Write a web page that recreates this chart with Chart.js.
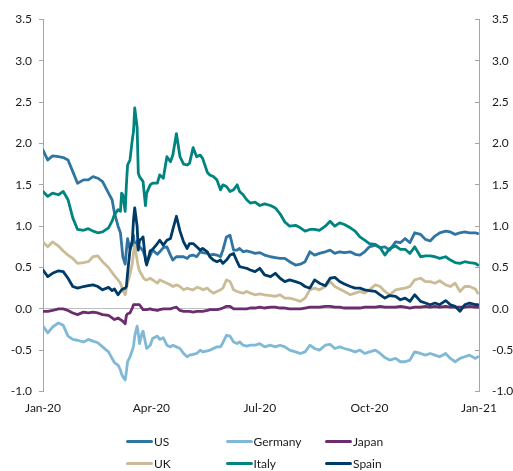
<!DOCTYPE html>
<html><head><meta charset="utf-8">
<script src="https://cdn.jsdelivr.net/npm/chart.js@4"></script>
<style>
html,body{margin:0;padding:0;background:#fff;}
#wrap{position:relative;width:513px;height:471px;}
#legend{position:absolute;left:0;top:0;width:513px;height:471px;pointer-events:none;font:12px Lato, sans-serif;color:#1a1a1a;}
.item{position:absolute;display:flex;align-items:center;height:16px;white-space:nowrap;}
.item i{display:inline-block;width:27px;height:3px;border-radius:1.5px;margin-right:1px;}
</style></head><body>
<div id="wrap"><canvas id="c" width="513" height="471"></canvas><div id="legend"></div></div>
<script>
// days since 2020-01-01
const days = [0,4,8,13,17,21,25,29,34,38,42,46,50,55,
58,60,63,65,66,67,69,70,71,73,75,76,77,79,80,81,83,84,86,87,
90,92,96,98,101,104,107,109,112,115,118,121,123,126,129,132,134,138,140,143,146,149,151,154,157,160,163,165,168,171,174,
178,182,186,191,195,199,203,207,212,216,220,224,228,232,237,241,245,249,253,258,262,266,270,274,279,283,287,291,296,300,304,308,312,317,321,325,329,333,338,342,346,350,354,358,363,365];

const us = [1.92,1.80,1.85,1.84,1.83,1.80,1.66,1.52,1.56,1.56,1.60,1.58,1.54,1.40,
1.32,1.16,1.00,0.92,0.78,0.63,0.54,0.71,0.85,0.72,0.79,0.89,0.70,0.82,0.76,0.75,0.72,0.70,0.62,0.55,
0.65,0.71,0.66,0.69,0.74,0.75,0.65,0.59,0.63,0.63,0.63,0.61,0.64,0.65,0.63,0.69,0.68,0.67,0.65,0.66,0.65,0.63,0.71,0.87,0.89,0.71,0.71,0.73,0.69,0.70,0.69,
0.67,0.68,0.65,0.63,0.62,0.61,0.61,0.57,0.53,0.54,0.57,0.69,0.65,0.67,0.69,0.71,0.67,0.69,0.68,0.69,0.66,0.65,0.69,0.75,0.77,0.74,0.75,0.71,0.81,0.80,0.85,0.80,0.92,0.90,0.84,0.82,0.88,0.92,0.94,0.93,0.90,0.92,0.93,0.92,0.92,0.91];

const germany = [-0.21,-0.29,-0.22,-0.17,-0.20,-0.33,-0.37,-0.38,-0.40,-0.37,-0.39,-0.41,-0.46,-0.52,
-0.60,-0.65,-0.68,-0.74,-0.79,-0.82,-0.86,-0.76,-0.64,-0.58,-0.50,-0.45,-0.33,-0.21,-0.30,-0.42,-0.30,-0.27,-0.41,-0.48,
-0.44,-0.36,-0.33,-0.37,-0.35,-0.44,-0.46,-0.44,-0.46,-0.48,-0.54,-0.58,-0.56,-0.55,-0.54,-0.50,-0.52,-0.51,-0.50,-0.48,-0.46,-0.46,-0.41,-0.32,-0.33,-0.40,-0.42,-0.40,-0.44,-0.45,-0.44,
-0.44,-0.42,-0.46,-0.44,-0.46,-0.44,-0.46,-0.50,-0.52,-0.54,-0.52,-0.44,-0.48,-0.50,-0.44,-0.43,-0.48,-0.46,-0.48,-0.50,-0.52,-0.50,-0.54,-0.52,-0.50,-0.54,-0.59,-0.62,-0.60,-0.64,-0.64,-0.62,-0.52,-0.54,-0.56,-0.54,-0.56,-0.58,-0.54,-0.60,-0.64,-0.60,-0.58,-0.56,-0.60,-0.58];

const japan = [-0.03,-0.03,-0.02,0.00,0.00,-0.02,-0.05,-0.07,-0.04,-0.05,-0.04,-0.05,-0.07,-0.08,
-0.11,-0.13,-0.11,-0.13,-0.14,-0.15,-0.18,-0.08,-0.06,-0.05,0.01,0.05,0.05,0.05,0.05,0.05,0.01,-0.01,-0.01,-0.01,
0.00,-0.01,-0.02,-0.01,0.00,0.00,0.00,0.01,0.02,-0.02,-0.03,-0.03,-0.03,-0.04,-0.03,-0.03,-0.03,-0.02,-0.01,-0.01,-0.01,0.00,0.01,0.03,0.03,0.00,0.00,0.00,0.00,0.00,0.01,
0.01,0.02,0.01,0.02,0.02,0.01,0.01,0.00,0.00,0.00,0.01,0.02,0.02,0.02,0.03,0.03,0.02,0.02,0.01,0.01,0.01,0.01,0.02,0.02,0.02,0.03,0.02,0.02,0.02,0.03,0.02,0.01,0.02,0.02,0.03,0.02,0.03,0.02,0.03,0.02,0.02,0.02,0.02,0.03,0.02,0.02];

const uk = [0.81,0.75,0.81,0.76,0.70,0.65,0.61,0.55,0.56,0.57,0.63,0.64,0.57,0.50,
0.44,0.40,0.35,0.31,0.27,0.22,0.17,0.25,0.31,0.42,0.55,0.69,0.77,0.59,0.51,0.46,0.41,0.38,0.35,0.35,
0.37,0.35,0.31,0.35,0.33,0.31,0.29,0.27,0.29,0.27,0.23,0.25,0.24,0.23,0.26,0.25,0.23,0.25,0.22,0.19,0.21,0.23,0.25,0.35,0.33,0.23,0.21,0.20,0.19,0.21,0.19,
0.17,0.18,0.17,0.16,0.15,0.17,0.13,0.13,0.11,0.09,0.13,0.23,0.25,0.23,0.27,0.33,0.27,0.24,0.21,0.17,0.19,0.21,0.19,0.23,0.29,0.27,0.21,0.17,0.23,0.24,0.25,0.27,0.35,0.37,0.33,0.33,0.31,0.34,0.29,0.27,0.31,0.21,0.27,0.27,0.24,0.19];

const italy = [1.42,1.36,1.40,1.38,1.42,1.32,1.10,0.96,0.95,0.97,0.94,0.92,0.93,0.98,
1.06,1.14,1.20,1.18,1.40,1.38,1.18,1.50,1.74,1.80,2.05,2.15,2.43,2.20,1.64,1.60,1.56,1.54,1.25,1.40,
1.50,1.52,1.52,1.62,1.58,1.84,1.78,1.86,2.12,1.84,1.75,1.74,1.76,1.95,1.84,1.86,1.82,1.65,1.62,1.60,1.56,1.44,1.50,1.48,1.42,1.44,1.50,1.42,1.38,1.32,1.28,
1.29,1.25,1.27,1.25,1.22,1.15,1.05,1.00,1.01,0.98,0.94,0.96,0.96,0.95,1.00,1.06,1.00,1.04,1.02,0.98,0.94,0.87,0.83,0.79,0.78,0.74,0.65,0.73,0.76,0.72,0.72,0.67,0.75,0.63,0.64,0.64,0.63,0.61,0.63,0.59,0.56,0.55,0.57,0.56,0.55,0.53];

const spain = [0.47,0.39,0.43,0.46,0.45,0.37,0.27,0.25,0.27,0.28,0.29,0.27,0.23,0.26,
0.22,0.24,0.17,0.21,0.23,0.24,0.25,0.27,0.43,0.71,0.83,1.08,1.22,1.00,0.71,0.83,0.85,0.87,0.59,0.53,
0.70,0.72,0.79,0.83,0.77,0.83,0.85,0.96,1.12,0.94,0.81,0.73,0.79,0.79,0.75,0.71,0.73,0.69,0.63,0.59,0.57,0.59,0.55,0.59,0.65,0.67,0.57,0.51,0.50,0.49,0.47,
0.45,0.49,0.41,0.39,0.43,0.37,0.33,0.35,0.33,0.31,0.27,0.25,0.35,0.31,0.28,0.37,0.38,0.33,0.30,0.27,0.25,0.25,0.23,0.22,0.21,0.17,0.13,0.16,0.15,0.11,0.13,0.09,0.17,0.09,0.07,0.05,0.07,0.05,0.10,0.05,0.03,-0.03,0.05,0.07,0.05,0.05];

const seriesNames = ['US','Germany','Japan','UK','Italy','Spain'];
const seriesColors = ['#2e75a3','#7fb9d6','#6b2d6f','#c9bc96','#00847f','#003a66'];
const tickDays = [0,91,182,274,366];
const tickLabels = ['Jan-20','Apr-20','Jul-20','Oct-20','Jan-21'];

const seriesValues = [us, germany, japan, uk, italy, spain];
const font = {family:'Lato, sans-serif', size:12};
const txt = '#1a1a1a';
const axisGrey = '#a6a6a6';

new Chart(document.getElementById('c'), {
  type:'line',
  data:{datasets: seriesValues.map((v,i)=>({
    label: seriesNames[i],
    data: days.map((d,j)=>({x:d, y:v[j]})),
    borderColor: seriesColors[i], backgroundColor: seriesColors[i],
    borderWidth: 2.8, pointRadius: 0, tension: 0, fill:false,
    borderJoinStyle:'round', borderCapStyle:'round',
    order: seriesValues.length - i, yAxisID:'y'
  }))},
  options:{
    responsive:false, animation:false, events:[],
    layout:{padding:{top:19.5,bottom:49.5,left:0,right:0}},
    plugins:{legend:{display:false}, tooltip:{enabled:false}},
    scales:{
      x:{type:'linear', min:0, max:366,
        afterBuildTicks:s=>{ s.ticks = tickDays.map(v=>({value:v})); },
        ticks:{callback:v=>tickLabels[tickDays.indexOf(v)], padding:9, maxRotation:0, autoSkip:false, font, color:txt},
        grid:{display:false, drawTicks:false}, border:{display:false},
        afterFit:s=>{ s.height = 30; }},
      y:{position:'left', min:-1, max:3.5,
        ticks:{stepSize:0.5, callback:v=>Number(v).toFixed(1), padding:7, font, color:txt},
        grid:{color:c=>(c.tick && Math.abs(c.tick.value)<1e-9)?'#bfbfbf':'rgba(0,0,0,0)', tickColor:axisGrey, tickLength:4, lineWidth:1},
        border:{color:axisGrey, width:1},
        afterFit:s=>{ s.width = 43; s.paddingTop = 8; s.paddingBottom = 8; }},
      y2:{position:'right', display:true, min:-1, max:3.5,
        ticks:{stepSize:0.5, callback:v=>Number(v).toFixed(1), padding:17, font, color:txt},
        grid:{drawOnChartArea:false, tickColor:axisGrey, tickLength:-4},
        border:{color:axisGrey, width:1},
        afterFit:s=>{ s.width = 34; s.paddingTop = 8; s.paddingBottom = 8; }}
    }
  }
});

const lg = document.getElementById('legend');
seriesNames.forEach((n,i)=>{
  const d = document.createElement('div');
  d.className='item';
  d.style.left = (126 + (i%3)*99.5) + 'px';
  d.style.top = (433 + Math.floor(i/3)*22) + 'px';
  d.innerHTML = '<i style="background:'+seriesColors[i]+'"></i>'+n;
  lg.appendChild(d);
});
</script>
</body></html>
